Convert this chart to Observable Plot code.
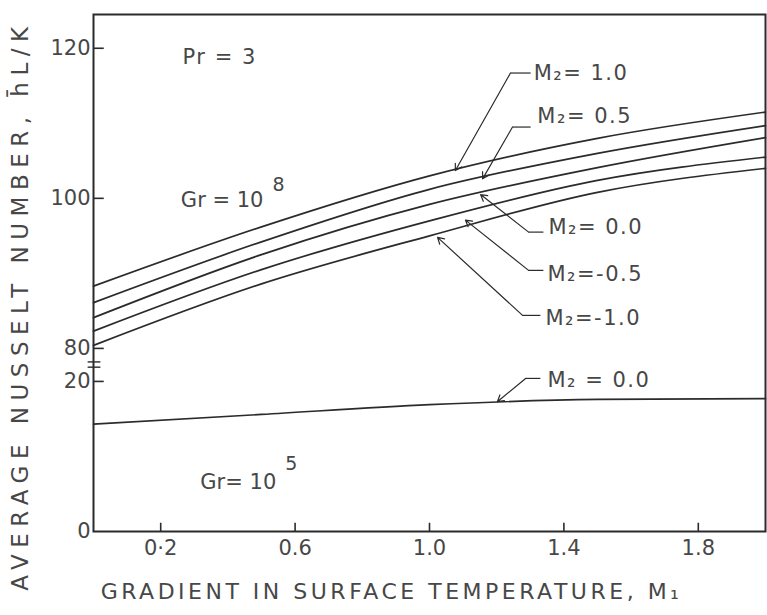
<!DOCTYPE html>
<html><head><meta charset="utf-8">
<script src="https://cdn.jsdelivr.net/npm/d3@7"></script>
<script src="https://cdn.jsdelivr.net/npm/@observablehq/plot@0.6"></script>
<style>
body{margin:0;background:#fff}
svg{font-family:"DejaVu Sans",sans-serif}
</style>
</head><body><div id="chart"></div>
<script>
// ---- data ----
const m1 = [0, 0.5, 1.0, 1.5, 2.0];                 // gradient in surface temperature M1
const nuGr8_M2p10 = [88.3, 96.2, 103.0, 108.0, 111.5]; // Gr=1e8, M2=1.0
const nuGr8_M2p05 = [86.1, 94.2, 101.2, 106.0, 109.7]; // M2=0.5
const nuGr8_M2p00 = [84.1, 92.5, 99.2, 104.1, 108.1];  // M2=0.0
const nuGr8_M2m05 = [82.3, 90.5, 97.0, 102.4, 105.5];  // M2=-0.5
const nuGr8_M2m10 = [80.4, 88.6, 95.0, 100.8, 104.0];  // M2=-1.0
const nuGr5_M2p00 = [14.3, 15.6, 16.9, 17.6, 17.7];    // Gr=1e5, M2=0.0

const xTicks = [0.2, 0.6, 1.0, 1.4, 1.8];
const xTickLabels = ["0·2", "0.6", "1.0", "1.4", "1.8"];
const yTicks = [0, 20, 80, 100, 120];
const yTickMarks = [20, 80, 100, 120];

// curve labels and leader lines (M1, Nu)
const labelTexts = ["M₂= 1.0", "M₂= 0.5", "M₂= 0.0", "M₂=-0.5", "M₂=-1.0", "M₂ = 0.0"];
const labelM1 = [1.310, 1.321, 1.354, 1.351, 1.345, 1.351];
const labelNu = [116.7, 110.9, 96.1, 89.9, 84.0, 20.1];
const tipM1 = [1.077, 1.158, 1.152, 1.107, 1.024, 1.202];
const tipNu = [103.7, 102.6, 100.5, 97.1, 94.8, 17.3];
const kneeM1 = [1.241, 1.247, 1.295, 1.295, 1.277, 1.286];
const kneeNu = [116.7, 109.5, 95.5, 90.4, 84.4, 20.4];
const endM1 = [1.301, 1.301, 1.339, 1.339, 1.330, 1.330];
const endNu = [116.7, 109.5, 95.5, 90.4, 84.4, 20.4];

// axis break
const breakLow = 20, breakHigh = 80, breakGap = 4.4, nuTop = 124.5;
const breakMarkNu = [21.9, 22.6]; // positions inside the gap (virtual units)

// ---- helpers ----
const yv = v => v < 50 ? v : v - breakHigh + breakLow + breakGap;
const series = [
  ["1.0", nuGr8_M2p10], ["0.5", nuGr8_M2p05], ["0.0", nuGr8_M2p00],
  ["-0.5", nuGr8_M2m05], ["-1.0", nuGr8_M2m10], ["low", nuGr5_M2p00]
];
const lineData = series.flatMap(([k, arr]) => arr.map((v, i) => ({key: k, x: m1[i], y: yv(v)})));
const labels = labelTexts.map((t, i) => ({t, x: labelM1[i], y: yv(labelNu[i]),
  tx: tipM1[i], ty: yv(tipNu[i]), kx: kneeM1[i], ky: yv(kneeNu[i]), ex: endM1[i], ey: yv(endNu[i])}));

const ink = "#2b2b2b", textInk = "#474747";
const fnt = "DejaVu Sans";
const xTitle = "GRADIENT IN SURFACE TEMPERATURE, M₁";
const yTitle = "AVERAGE NUSSELT NUMBER, h̄L/K";

const chart = Plot.plot({
  width: 767, height: 615,
  marginLeft: 93, marginRight: 2, marginTop: 14, marginBottom: 84,
  x: {domain: [0, 2.0], axis: null},
  y: {domain: [0, yv(nuTop)], axis: null},
  marks: [
    Plot.frame({stroke: ink, strokeWidth: 2}),
    Plot.line(lineData, {x: "x", y: "y", z: "key", stroke: ink, strokeWidth: 1.7, curve: "monotone-x"}),
    Plot.ruleY(yTickMarks.map(yv), {x1: 0, x2: 0.032, stroke: ink, strokeWidth: 1.6}),
    Plot.ruleX(xTicks, {y1: 0, y2: 1.1, stroke: ink, strokeWidth: 1.6}),
    Plot.ruleY(breakMarkNu, {x1: -0.016, x2: 0.022, stroke: ink, strokeWidth: 1.4}),
    Plot.axisY(yTicks.map(yv), {tickSize: 0, tickPadding: 3, fontSize: 21, fill: textInk, fontFamily: fnt,
      tickFormat: d => d < breakLow + breakGap / 2 ? String(Math.round(d)) : String(Math.round(d + breakHigh - breakLow - breakGap)), label: null}),
    Plot.axisX(xTicks, {tickSize: 0, tickPadding: 9, fontSize: 21, fill: textInk, fontFamily: fnt,
      tickFormat: d => xTickLabels[xTicks.indexOf(d)], label: null}),
    // leaders
    Plot.link(labels, {x1: "ex", y1: "ey", x2: "kx", y2: "ky", stroke: ink, strokeWidth: 1.2}),
    Plot.arrow(labels, {x1: "kx", y1: "ky", x2: "tx", y2: "ty", stroke: ink, strokeWidth: 1.2, headLength: 9}),
    Plot.text(labels, {x: "x", y: "y", text: "t", textAnchor: "start", lineAnchor: "middle", fontSize: 21, fill: textInk, fontFamily: fnt}),
    // annotations
    Plot.text(["Pr = 3"], {x: 0.265, y: yv(118.8), textAnchor: "start", lineAnchor: "middle", fontSize: 21, fill: textInk, fontFamily: fnt}),
    Plot.text(["Gr = 10"], {x: 0.26, y: yv(99.7), textAnchor: "start", lineAnchor: "middle", fontSize: 21, fill: textInk, fontFamily: fnt}),
    Plot.text(["8"], {x: 0.533, y: yv(101.8), textAnchor: "start", lineAnchor: "middle", fontSize: 19, fill: textInk, fontFamily: fnt}),
    Plot.text(["Gr= 10"], {x: 0.318, y: 6.53, textAnchor: "start", lineAnchor: "middle", fontSize: 21, fill: textInk, fontFamily: fnt}),
    Plot.text(["5"], {x: 0.571, y: 9.07, textAnchor: "start", lineAnchor: "middle", fontSize: 19, fill: textInk, fontFamily: fnt}),
    // axis titles
    Plot.text([xTitle], {x: 0.887, y: -8.1, textAnchor: "middle", lineAnchor: "middle", fontSize: 22, fill: textInk, fontFamily: fnt}),
    Plot.text([yTitle], {x: -0.217, y: 30.1, rotate: -90, textAnchor: "middle", lineAnchor: "middle", fontSize: 23, fill: textInk, fontFamily: fnt})
  ]
});
const sel = d3.select(chart).selectAll("text");
sel.filter(function() { return this.textContent === xTitle; }).style("letter-spacing", "3.5px");
sel.filter(function() { return this.textContent === yTitle; }).style("letter-spacing", "6.5px");
sel.filter(function() { return labelTexts.includes(this.textContent) || this.textContent === "Pr = 3"; })
  .style("letter-spacing", "1.5px");
document.getElementById("chart").appendChild(chart);
</script>
</body></html>
